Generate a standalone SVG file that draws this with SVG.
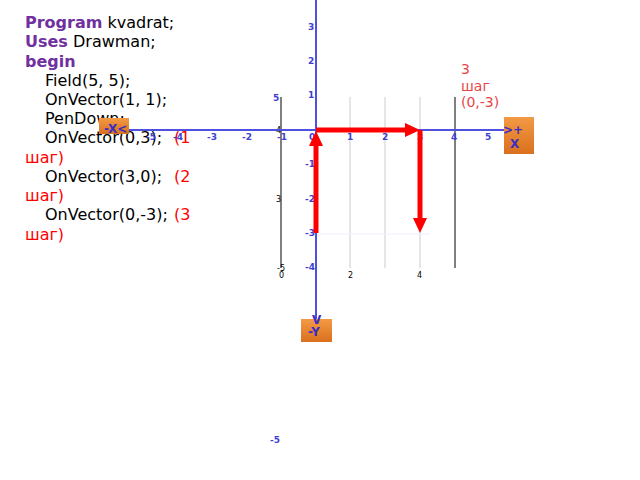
<svg xmlns="http://www.w3.org/2000/svg" width="640" height="480" viewBox="0 0 640 480">
<style>
.code{font-family:"DejaVu Sans",Verdana,sans-serif;font-size:16px;fill:#000}
.kw{fill:#7030A0;font-weight:bold}
.red{fill:#FF0000}
.ax{font-family:"DejaVu Sans",sans-serif;font-size:9px;font-weight:bold;fill:#4040D0}
.sm{font-family:"DejaVu Sans",sans-serif;font-size:8px;fill:#000}
.bx{fill:url(#og)}
.bt{font-family:"DejaVu Sans",sans-serif;font-size:12px;font-weight:bold;fill:#3a2fc0}
.note{font-family:"DejaVu Sans",sans-serif;font-size:14px;fill:#E84545}
.grid{stroke:#cccccc;stroke-width:1}
.gridk{stroke:#000;stroke-width:1}
.axis{stroke:#5050E0;stroke-width:2;fill:none}
.arr{stroke:#FF0000;stroke-width:5;fill:none}
</style>
<defs>
<linearGradient id="og" x1="0" y1="0" x2="0" y2="1">
<stop offset="0" stop-color="#F39A45"/>
<stop offset="1" stop-color="#D9701E"/>
</linearGradient>
</defs>
<rect width="640" height="480" fill="#fff"/>

<g id="code">
<text class="code" x="25" y="28"><tspan class="kw">Program</tspan> kvadrat;</text>
<text class="code" x="25" y="47"><tspan class="kw">Uses</tspan> Drawman;</text>
<text class="code kw" x="25" y="67">begin</text>
<text class="code" x="45" y="86">Field(5, 5);</text>
<text class="code" x="45" y="105">OnVector(1, 1);</text>
<text class="code" x="45" y="124">PenDown;</text>
<text class="code" x="45" y="143">OnVector(0,3);<tspan class="red" x="174">(1</tspan></text>
<text class="code red" x="25" y="163">шаг)</text>
<text class="code" x="45" y="182">OnVector(3,0);<tspan class="red" x="174">(2</tspan></text>
<text class="code red" x="25" y="201">шаг)</text>
<text class="code" x="45" y="220">OnVector(0,-3);<tspan class="red" x="174">(3</tspan></text>
<text class="code red" x="25" y="240">шаг)</text>
</g>

<g id="field">
<line class="grid" x1="350" y1="97" x2="350" y2="268"/>
<line class="grid" x1="385" y1="97" x2="385" y2="268"/>
<line class="grid" x1="420" y1="97" x2="420" y2="268"/>
<line x1="316" y1="234" x2="430" y2="234" stroke="#eeeeff" stroke-width="1"/>
<line class="gridk" x1="281" y1="97" x2="281" y2="268"/>
<line class="gridk" x1="455" y1="97" x2="455" y2="268"/>
<text class="ax" x="273" y="101">5</text>
<text class="sm" x="276" y="133">4</text>
<text class="sm" x="276" y="202" font-size="5">3</text>
<text class="sm" x="277" y="271">-5</text>
<text class="sm" x="279" y="278">0</text>
<text class="sm" x="348" y="278">2</text>
<text class="sm" x="417" y="278">4</text>
</g>

<g id="axes">
<line class="axis" x1="125" y1="130" x2="508" y2="130"/>
<line class="axis" x1="316" y1="0" x2="316" y2="322"/>
<text class="ax" x="308" y="30">3</text>
<text class="ax" x="308" y="64">2</text>
<text class="ax" x="308" y="98">1</text>
<text class="ax" x="305" y="167">-1</text>
<text class="ax" x="305" y="202">-2</text>
<text class="ax" x="305" y="236">-3</text>
<text class="ax" x="305" y="270">-4</text>
<text class="ax" x="270" y="443">-5</text>
<text class="ax" x="146" y="140">-5</text>
<text class="ax" x="173" y="140">-4</text>
<text class="ax" x="207" y="140">-3</text>
<text class="ax" x="242" y="140">-2</text>
<text class="ax" x="277" y="140">-1</text>
<text class="ax" x="309" y="140">0</text>
<text class="ax" x="347" y="140">1</text>
<text class="ax" x="382" y="140">2</text>
<text class="ax" x="417" y="140">3</text>
<text class="ax" x="451" y="140">4</text>
<text class="ax" x="485" y="140">5</text>
</g>

<g id="box-minus-x">
<rect class="bx" x="99" y="118" width="30" height="16"/>
<text class="bt" x="104" y="133" font-weight="normal">-X&lt;</text>
</g>
<g id="box-plus-x">
<rect class="bx" x="504" y="117" width="30" height="37"/>
<text class="bt" x="503" y="134">&gt;+</text>
<text class="bt" x="510" y="148">X</text>
</g>
<g id="box-minus-y">
<rect class="bx" x="301" y="319" width="31" height="23"/>
<text class="bt" x="312" y="324" font-size="9">V</text>
<text class="bt" x="308" y="336" font-size="11">-Y</text>
</g>

<g id="connectors">
<line class="arr" x1="316" y1="233" x2="316" y2="144"/>
<polygon points="316,131 309,146 323,146" fill="#FF0000"/>
<line class="arr" x1="316" y1="130" x2="407" y2="130"/>
<polygon points="420,130 405,123 405,137" fill="#FF0000"/>
<line class="arr" x1="420" y1="130" x2="420" y2="220"/>
<polygon points="420,233 413,218 427,218" fill="#FF0000"/>
</g>

<g id="note">
<text class="note" x="461" y="74">3</text>
<text class="note" x="461" y="91">шаг</text>
<text class="note" x="461" y="107">(0,-3)</text>
</g>
</svg>
